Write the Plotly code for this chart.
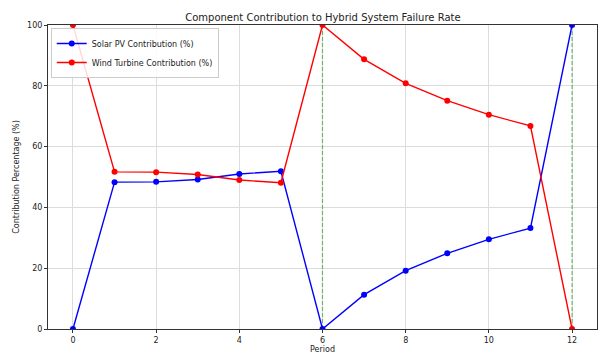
import plotly.graph_objects as go

periods = list(range(13))
solar = [0, 48.3, 48.4, 49.2, 51.0, 51.9, 0, 11.3, 19.2, 24.9, 29.5, 33.2, 100]
wind = [100, 51.7, 51.6, 50.8, 49.0, 48.1, 100, 88.7, 80.8, 75.1, 70.5, 66.8, 0]
vlines = [6, 12]

fig = go.Figure()
for xv in vlines:
    fig.add_trace(go.Scatter(x=[xv, xv], y=[0, 100], mode="lines",
                             line=dict(color="rgba(44,160,44,0.65)", width=1.2, dash="4px,2px"),
                             showlegend=False, hoverinfo="skip"))
fig.add_trace(go.Scatter(x=periods, y=solar, mode="lines+markers", name="Solar PV Contribution (%)",
                         line=dict(color="blue", width=1.4), marker=dict(color="blue", size=6)))
fig.add_trace(go.Scatter(x=periods, y=wind, mode="lines+markers", name="Wind Turbine Contribution (%)",
                         line=dict(color="red", width=1.4), marker=dict(color="red", size=6)))

fig.update_layout(
    width=598, height=354,
    margin=dict(l=48, r=1, t=25, b=25),
    paper_bgcolor="white", plot_bgcolor="white",
    font=dict(family="DejaVu Sans", size=8, color="#222"),
    title=dict(text="Component Contribution to Hybrid System Failure Rate", x=0.54, xanchor="center",
               y=1 - 17/354, yanchor="middle", font=dict(size=10, color="#222")),
    legend=dict(x=0.005, y=0.99, xanchor="left", yanchor="top", bgcolor="rgba(255,255,255,0.85)",
                bordercolor="#ccc", borderwidth=1, font=dict(size=8)),
    xaxis=dict(range=[-0.6, 12.6], tickmode="array", tickvals=[0, 2, 4, 6, 8, 10, 12],
               showgrid=True, gridcolor="#dcdcdc", gridwidth=1, zeroline=False,
               showline=True, linecolor="#333", mirror=True, ticks="outside", ticklen=3,
               tickcolor="#333", title=dict(text="Period", standoff=2, font=dict(size=8))),
    yaxis=dict(range=[0, 100], tickvals=[0, 20, 40, 60, 80, 100],
               showgrid=True, gridcolor="#dcdcdc", gridwidth=1, zeroline=False,
               showline=True, linecolor="#333", mirror=True, ticks="outside", ticklen=3,
               tickcolor="#333", title=dict(text="Contribution Percentage (%)", standoff=6, font=dict(size=8))),
)
fig.write_html("out.html")
